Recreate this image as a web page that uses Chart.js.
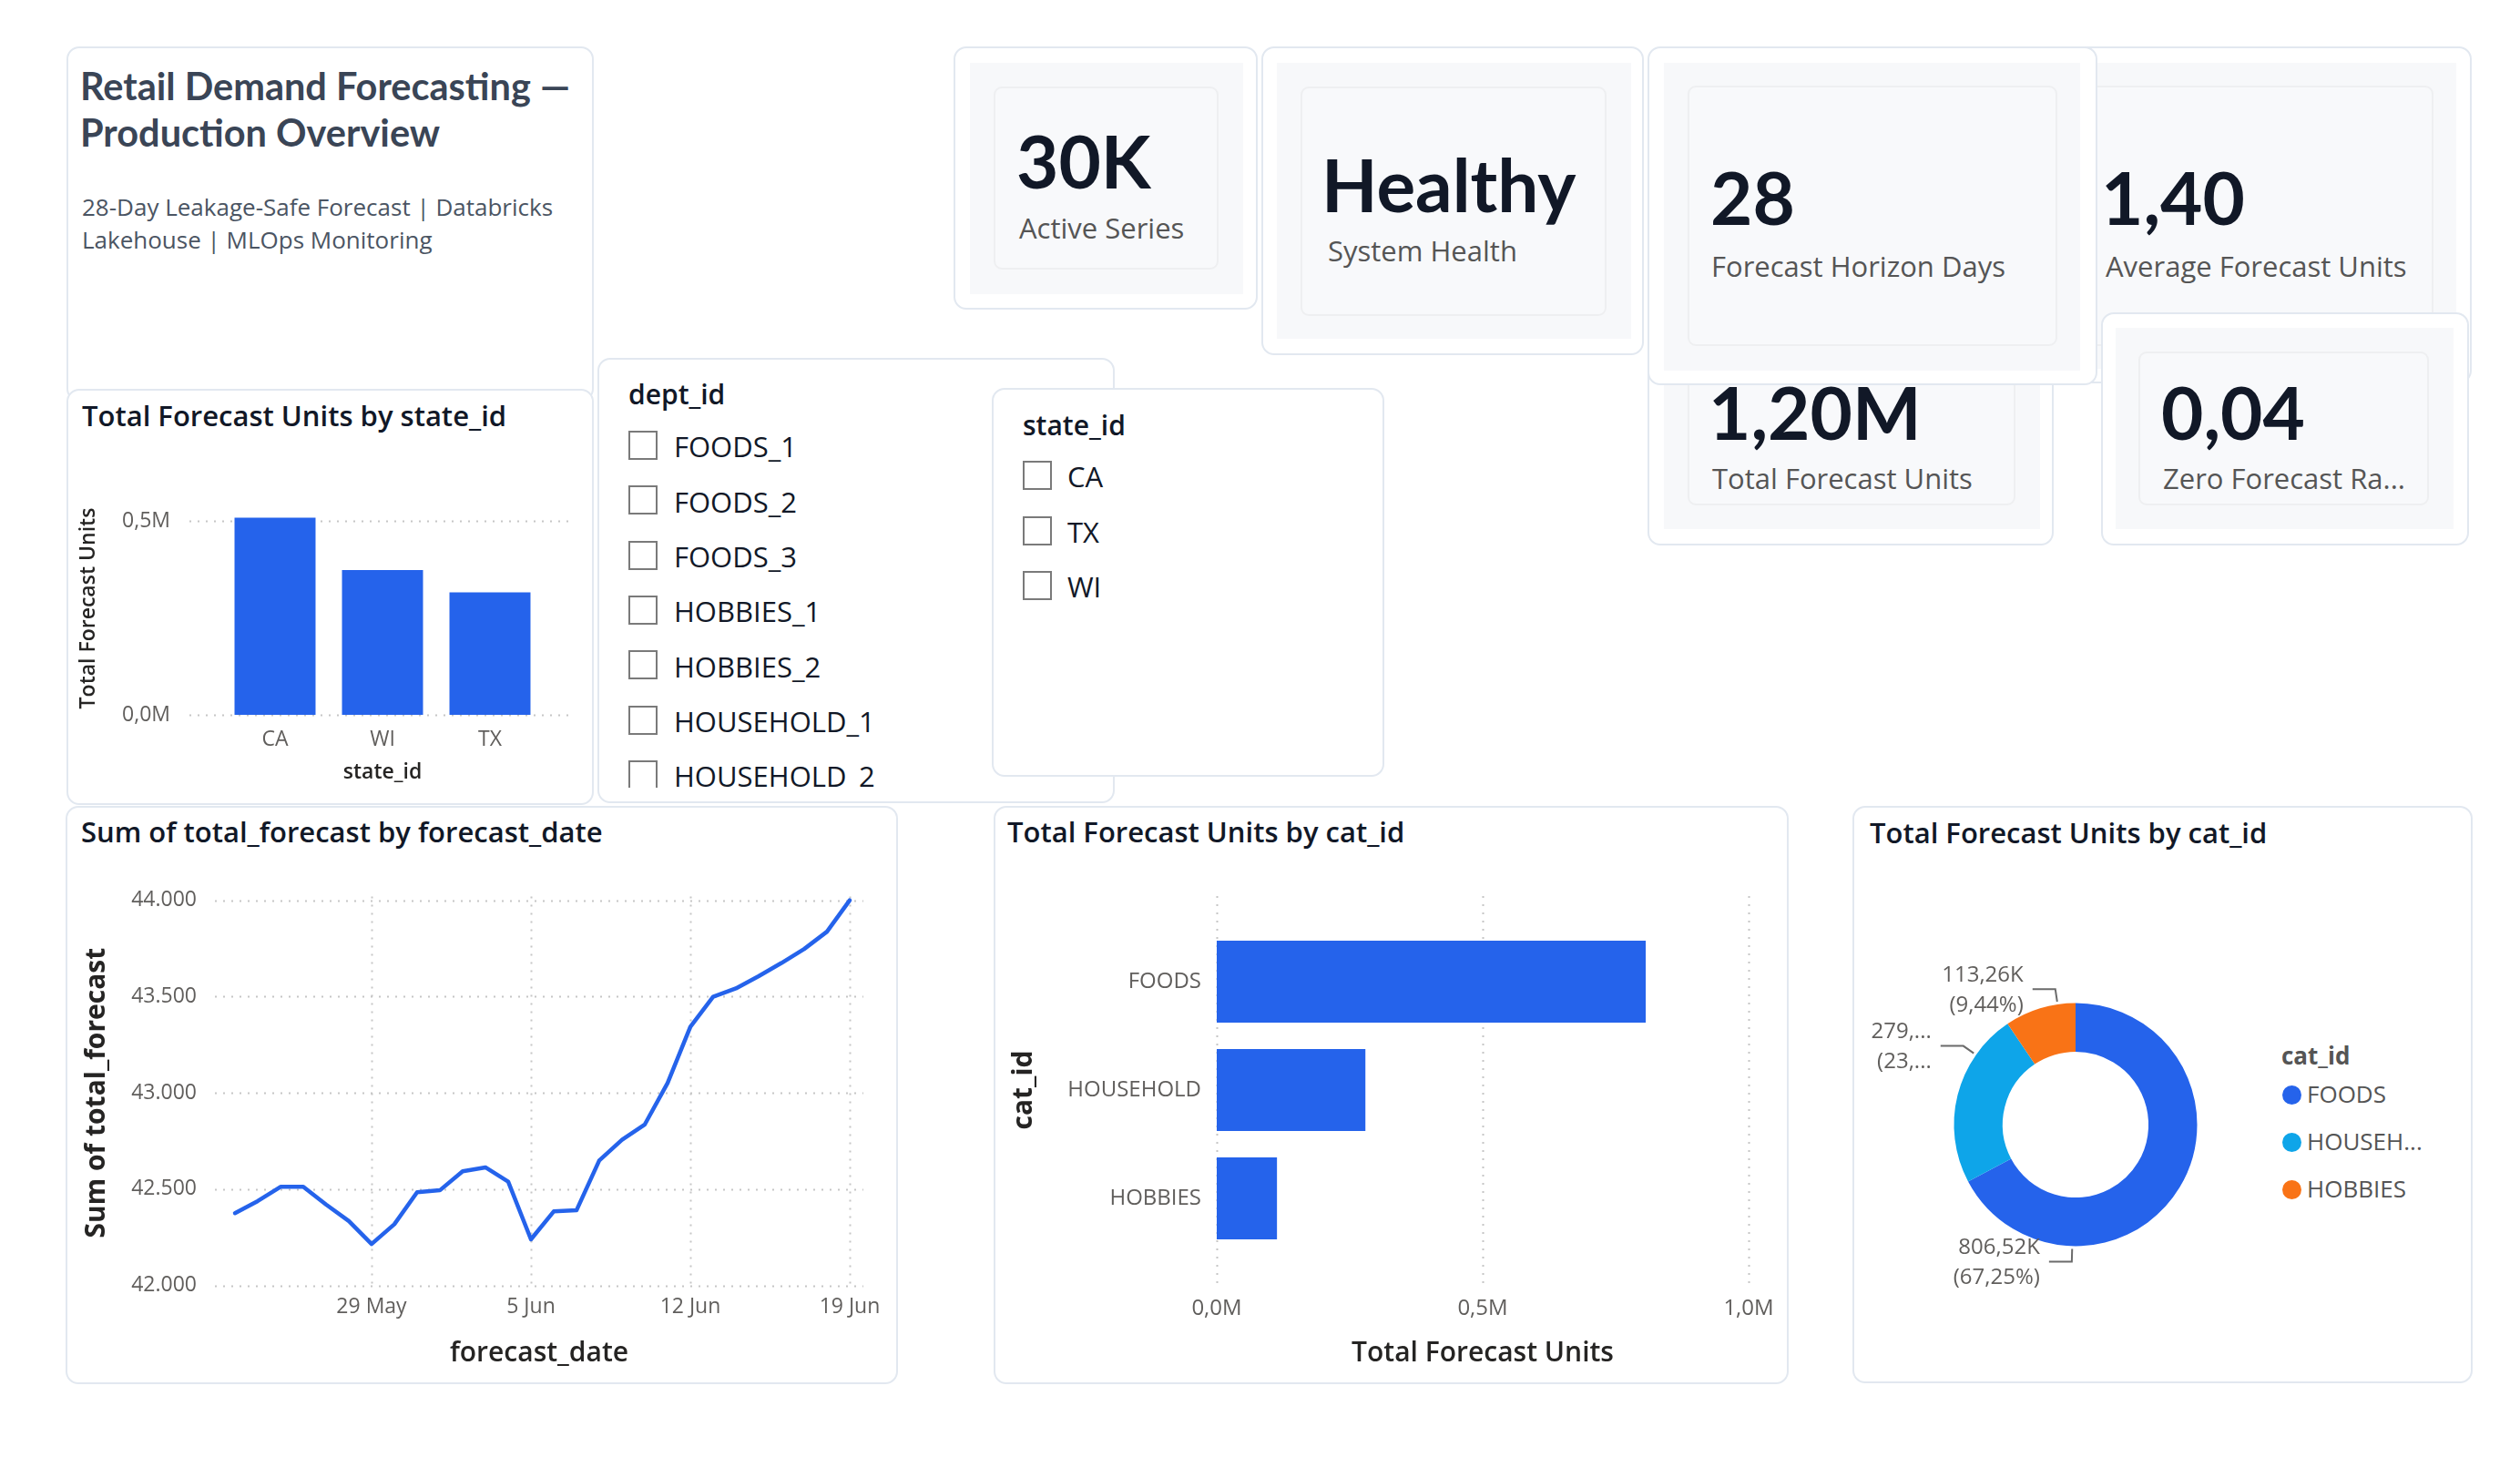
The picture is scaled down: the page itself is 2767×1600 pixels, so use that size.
<!DOCTYPE html>
<html><head><meta charset="utf-8">
<script src="https://cdn.jsdelivr.net/npm/chart.js@4.4.1/dist/chart.umd.min.js"></script>
<style>
html,body{margin:0;padding:0;background:#fff;}
#page{position:relative;width:2767px;height:1600px;overflow:hidden;font-family:"Open Sans",sans-serif;}
.card{position:absolute;box-sizing:border-box;background:#fff;border:2px solid #E2E8F0;border-radius:14px;}
.grey{position:absolute;background:#F7F8FA;}
.inner{position:absolute;box-sizing:border-box;background:#F8F9FB;border:2px solid #EEEFF1;border-radius:9px;}
.t{position:absolute;white-space:nowrap;line-height:1;}
.cb{position:absolute;box-sizing:border-box;width:32px;height:32px;border:2px solid #7A7A7A;background:#fff;}
.clip{position:absolute;overflow:hidden;}
.dot{position:absolute;width:21px;height:21px;border-radius:50%;}
canvas{position:absolute;}
</style></head>
<body><div id="page"></div>
<script>
// ---------- data ----------
const states = ['CA', 'WI', 'TX'];
const stateUnits = [509000, 374000, 316300];
const stateTicks = [0, 500000];

const forecastDates = ['23 May','24 May','25 May','26 May','27 May','28 May','29 May','30 May','31 May',
  '1 Jun','2 Jun','3 Jun','4 Jun','5 Jun','6 Jun','7 Jun','8 Jun','9 Jun','10 Jun','11 Jun','12 Jun',
  '13 Jun','14 Jun','15 Jun','16 Jun','17 Jun','18 Jun','19 Jun'];
const totalForecast = [42375, 42438, 42512, 42512, 42420, 42334, 42215, 42318, 42484, 42494, 42593, 42613,
  42539, 42239, 42384, 42390, 42649, 42756, 42836, 43051, 43343, 43499, 43542, 43606, 43674, 43747, 43837, 44000];
const dateTickLabels = ['29 May', '5 Jun', '12 Jun', '19 Jun'];
const forecastTicks = [42000, 42500, 43000, 43500, 44000];

const categories = ['FOODS', 'HOUSEHOLD', 'HOBBIES'];
const categoryUnits = [806520, 279500, 113260];
const unitTicks = [0, 500000, 1000000];

const deptIds = ['FOODS_1','FOODS_2','FOODS_3','HOBBIES_1','HOBBIES_2','HOUSEHOLD_1','HOUSEHOLD_2'];
const stateIds = ['CA', 'TX', 'WI'];

const kpiValues = ['30K', 'Healthy', '28', '1,40', '1,20M', '0,04'];
const kpiLabels = ['Active Series', 'System Health', 'Forecast Horizon Days', 'Average Forecast Units', 'Total Forecast Units', 'Zero Forecast Ra...'];

const catColors = ['#2563EB', '#0EA5E9', '#F97316'];

// ---------- page helpers ----------
const page = document.getElementById('page');
function box(cls, x, y, w, h, parent) {
  const d = document.createElement('div'); d.className = cls;
  d.style.left = x + 'px'; d.style.top = y + 'px'; d.style.width = w + 'px'; d.style.height = h + 'px';
  (parent || page).appendChild(d); return d;
}
function txt(x, base, size, weight, color, text, fam, parent, ox, oy) {
  const d = document.createElement('div'); d.className = 't';
  d.style.left = (x - (ox || 0)) + 'px'; d.style.top = (base - 0.888 * size - (oy || 0)) + 'px';
  d.style.fontSize = size + 'px'; d.style.fontWeight = weight; d.style.color = color;
  if (fam) d.style.fontFamily = fam;
  d.textContent = text; (parent || page).appendChild(d); return d;
}
const LATO = 'Lato, "Open Sans", sans-serif';

// title card
box('card', 73, 51, 579, 390);
txt(88, 111, 41.5, 700, '#3A4556', 'Retail Demand Forecasting \u2014', LATO);
txt(88, 162, 41.5, 700, '#3A4556', 'Production Overview', LATO);
txt(90, 237, 26, 400, '#4B5563', '28-Day Leakage-Safe Forecast | Databricks');
txt(90, 273, 26, 400, '#4B5563', 'Lakehouse | MLOps Monitoring');

// state chart card
box('card', 73, 427, 579, 457);
txt(90, 469, 31, 600, '#111827', 'Total Forecast Units by state_id');

// dept slicer
box('card', 656, 393, 568, 489);
txt(690, 445, 30, 600, '#111827', 'dept_id');
const dclip = box('clip', 656, 460, 568, 405);
deptIds.forEach((d, i) => {
  const top = 473 + 60.3 * i;
  box('cb', 690 - 656, top - 460, 32, 32, dclip);
  txt(740, top + 30, 31, 400, '#111827', d, null, dclip, 656, 460);
});

// state slicer
box('card', 1089, 426, 431, 427);
txt(1123, 478.5, 30, 600, '#111827', 'state_id');
stateIds.forEach((s, i) => {
  const top = 506 + 60.5 * i;
  box('cb', 1123, top, 32, 32);
  txt(1172, top + 30, 31, 400, '#111827', s);
});

// KPI cards
function kpi(o, g, n, i, vx, vb, lx, lb) {
  box('card', o[0], o[1], o[2], o[3]);
  box('grey', g[0], g[1], g[2], g[3]);
  box('inner', n[0], n[1], n[2], n[3]);
  txt(vx, vb, 80, 700, '#111827', kpiValues[i], LATO);
  txt(lx, lb, 31, 400, '#555555', kpiLabels[i]);
}
kpi([2245, 51, 469, 370], [2263, 69, 434, 336], [2289, 94, 383, 286], 3, 2307, 247, 2312, 305);
kpi([1809, 327, 446, 272], [1827, 345, 413, 236], [1853, 371, 360, 184], 4, 1876, 483, 1880, 538);
kpi([1809, 51, 494, 372], [1827, 69, 457, 338], [1853, 94, 406, 286], 2, 1878, 247, 1879, 305);
kpi([2307, 343, 404, 256], [2323, 360, 371, 221], [2348, 386, 319, 169], 5, 2373, 483, 2375, 538);
kpi([1047, 51, 334, 289], [1065, 69, 300, 254], [1091, 95, 247, 201], 0, 1116, 207, 1119, 263);
kpi([1385, 51, 420, 339], [1402, 69, 389, 303], [1428, 95, 336, 252], 1, 1451, 233, 1458, 288);

// bottom cards
box('card', 72, 885, 914, 635);
txt(89, 926, 31, 600, '#111827', 'Sum of total_forecast by forecast_date');
box('card', 1091, 885, 873, 635);
txt(1106, 926, 31, 600, '#111827', 'Total Forecast Units by cat_id');
box('card', 2034, 885, 681, 634);
txt(2053, 927, 31, 600, '#111827', 'Total Forecast Units by cat_id');

// donut legend (HTML)
txt(2505, 1169, 26, 700, '#555555', 'cat_id');
const mctx = document.createElement('canvas').getContext('2d');
mctx.font = '400 26px "Open Sans"';
function fitText(ctx, s, maxW) {
  if (ctx.measureText(s).width <= maxW) return s;
  let t = s;
  while (t.length > 1 && ctx.measureText(t + '...').width > maxW) t = t.slice(0, -1);
  return t + '...';
}
categories.forEach((c, i) => {
  const cy = 1202 + 52 * i;
  const d = box('dot', 2516 - 10.5, cy - 10.5, 21, 21); d.style.background = catColors[i];
  txt(2533, cy + 9.5, 26, 400, '#555555', fitText(mctx, c, 140));
});

// ---------- charts ----------
Chart.defaults.font.family = '"Open Sans", sans-serif';
Chart.defaults.color = '#605E5C';
Chart.defaults.animation = false;

function mkCanvas(x, y, w, h) {
  const c = document.createElement('canvas');
  c.width = w; c.height = h;
  c.style.left = x + 'px'; c.style.top = y + 'px'; c.style.width = w + 'px'; c.style.height = h + 'px';
  page.appendChild(c); return c;
}
const fmtM = v => (v / 1e6).toFixed(1).replace('.', ',') + 'M';
const fmtThousands = v => String(v).replace(/\B(?=(\d{3})+(?!\d))/g, '.');
// fix an axis' thickness and drop its label-overflow padding so the layout padding alone sets the plot area
const fixSize = (dim, v) => s => { s[dim] = v; s.paddingLeft = 0; s.paddingRight = 0; s.paddingTop = 0; s.paddingBottom = 0; };

const extGrid = {
  id: 'extGrid',
  beforeDatasetsDraw(chart, args, opts) {
    const ca = chart.chartArea, ctx = chart.ctx;
    ctx.save();
    ctx.strokeStyle = '#C6C6C6'; ctx.lineWidth = 2; ctx.setLineDash([2, 7]);
    (opts.lines || []).forEach(l => {
      const s = chart.scales[l.axis];
      s.ticks.forEach(t => {
        const p = Math.round(s.getPixelForValue(t.value)) + 0.5;
        ctx.beginPath();
        if (s.isHorizontal()) { ctx.moveTo(p, ca.top - l.before); ctx.lineTo(p, ca.bottom + l.after); }
        else { ctx.moveTo(ca.left - l.before, p); ctx.lineTo(ca.right + l.after, p); }
        ctx.stroke();
      });
    });
    ctx.restore();
  }
};

// state bar chart
new Chart(mkCanvas(73, 480, 579, 400), {
  type: 'bar',
  data: { labels: states, datasets: [{ data: stateUnits, backgroundColor: '#2563EB', barPercentage: 0.754, categoryPercentage: 1 }] },
  options: {
    responsive: false, animation: false,
    layout: { padding: { top: 71, right: 55, left: 0, bottom: 0 } },
    plugins: { legend: { display: false }, tooltip: { enabled: false }, extGrid: { lines: [{ axis: 'y', before: 35, after: 31 }] } },
    scales: {
      x: { grid: { display: false }, border: { display: false },
        ticks: { padding: 6, font: { size: 23 }, color: '#605E5C' },
        title: { display: true, text: 'state_id', font: { size: 23, weight: '600' }, color: '#252423', padding: { top: 0, bottom: 18 } },
        afterFit: fixSize('height', 95) },
      y: { min: 0, max: 550000, grid: { display: false }, border: { display: false },
        afterBuildTicks: s => { s.ticks = stateTicks.map(v => ({ value: v })); },
        ticks: { padding: 48, font: { size: 23 }, color: '#605E5C', callback: v => fmtM(v) },
        title: { display: true, text: 'Total Forecast Units', font: { size: 23, weight: '600' }, color: '#252423', padding: { top: 11, bottom: 0 } },
        afterFit: fixSize('width', 170) }
    }
  },
  plugins: [extGrid]
});

// line chart
new Chart(mkCanvas(72, 940, 914, 575), {
  type: 'line',
  data: { datasets: [{ data: totalForecast.map((v, i) => ({ x: i, y: v })), borderColor: '#2563EB', borderWidth: 4.5,
    pointRadius: 0, tension: 0, clip: false, borderJoinStyle: 'round', borderCapStyle: 'round' }] },
  options: {
    responsive: false, animation: false,
    layout: { padding: { top: 44.4, right: 38, left: 0, bottom: 0 } },
    plugins: { legend: { display: false }, tooltip: { enabled: false },
      extGrid: { lines: [{ axis: 'x', before: 0, after: 0 }, { axis: 'y', before: 0, after: 0 }] } },
    scales: {
      x: { type: 'linear', min: -0.88, max: 27.6, grid: { display: false }, border: { display: false },
        afterBuildTicks: s => { s.ticks = dateTickLabels.map(l => ({ value: forecastDates.indexOf(l) })); },
        ticks: { padding: 0, font: { size: 23, lineHeight: 1 }, color: '#605E5C', maxRotation: 0, autoSkip: false,
          callback: v => forecastDates[v] },
        title: { display: true, text: 'forecast_date', font: { size: 30, weight: '600' }, color: '#252423', padding: { top: 0, bottom: 11 } },
        afterFit: fixSize('height', 99.2) },
      y: { min: 41980, max: 44020, grid: { display: false }, border: { display: false },
        afterBuildTicks: s => { s.ticks = forecastTicks.map(v => ({ value: v })); },
        ticks: { padding: 12, font: { size: 23 }, color: '#605E5C', callback: v => fmtThousands(v) },
        title: { display: true, text: 'Sum of total_forecast', font: { size: 30, weight: '700' }, color: '#252423', padding: { top: 16, bottom: 0 } },
        afterFit: fixSize('width', 164) }
    }
  },
  plugins: [extGrid]
});

// horizontal bar chart
new Chart(mkCanvas(1091, 940, 873, 575), {
  type: 'bar',
  data: { labels: categories, datasets: [{ data: categoryUnits, backgroundColor: '#2563EB', barPercentage: 0.756, categoryPercentage: 1 }] },
  options: {
    indexAxis: 'y', responsive: false, animation: false,
    layout: { padding: { top: 78.5, right: 44, left: 0, bottom: 0 } },
    plugins: { legend: { display: false }, tooltip: { enabled: false }, extGrid: { lines: [{ axis: 'x', before: 34.5, after: 38.5 }] } },
    scales: {
      x: { min: 0, max: 1000000, grid: { display: false }, border: { display: false },
        afterBuildTicks: s => { s.ticks = unitTicks.map(v => ({ value: v })); },
        ticks: { padding: 39, font: { size: 24 }, color: '#605E5C', callback: v => fmtM(v) },
        title: { display: true, text: 'Total Forecast Units', font: { size: 30, weight: '600' }, color: '#252423', padding: { top: 0, bottom: 11 } },
        afterFit: fixSize('height', 139.5) },
      y: { grid: { display: false }, border: { display: false },
        ticks: { padding: 9, font: { size: 24 }, color: '#605E5C' },
        title: { display: true, text: 'cat_id', font: { size: 30, weight: '700' }, color: '#252423', padding: { top: 15, bottom: 0 } },
        afterFit: fixSize('width', 245) }
    }
  },
  plugins: [extGrid]
});

// doughnut with outside labels
const donutLabels = {
  id: 'donutLabels',
  afterDatasetsDraw(chart, args, o) {
    const meta = chart.getDatasetMeta(0), ctx = chart.ctx;
    const data = chart.data.datasets[0].data;
    const total = data.reduce((a, b) => a + b, 0);
    ctx.save();
    ctx.font = '400 24px "Open Sans"';
    meta.data.forEach((arc, i) => {
      const p = arc.getProps(['x', 'y', 'startAngle', 'endAngle', 'outerRadius'], true);
      const a = p.startAngle + (p.endAngle - p.startAngle) * 0.75;
      const r0 = p.outerRadius + 3, r1 = r0 + 14;
      const x0 = p.x + Math.cos(a) * r0, y0 = p.y + Math.sin(a) * r0;
      const x1 = p.x + Math.cos(a) * r1, y1 = p.y + Math.sin(a) * r1;
      const dir = x0 < p.x ? -1 : 1;
      const x2 = x1 + dir * 25;
      ctx.strokeStyle = '#6B6B6B'; ctx.lineWidth = 2; ctx.setLineDash([]);
      ctx.beginPath(); ctx.moveTo(x0, y0); ctx.lineTo(x1, y1); ctx.lineTo(x2, y1); ctx.stroke();
      const tx = x2 + dir * 10;
      const maxW = dir < 0 ? tx - 4 : chart.width - 4 - tx;
      const l1 = fitText(ctx, (data[i] / 1000).toFixed(2).replace('.', ',') + 'K', maxW);
      const l2 = fitText(ctx, '(' + (data[i] / total * 100).toFixed(2).replace('.', ',') + '%)', maxW);
      ctx.fillStyle = '#605E5C'; ctx.textAlign = dir < 0 ? 'right' : 'left'; ctx.textBaseline = 'middle';
      ctx.fillText(l1, tx, y1 - 15);
      ctx.fillText(l2, tx, y1 + 18);
    });
    ctx.restore();
  }
};
new Chart(mkCanvas(2044, 1000, 470, 470), {
  type: 'doughnut',
  data: { labels: categories, datasets: [{ data: categoryUnits, backgroundColor: catColors, borderWidth: 0 }] },
  options: {
    responsive: false, animation: false, radius: 133.5, cutout: '60%',
    plugins: { legend: { display: false }, tooltip: { enabled: false } }
  },
  plugins: [donutLabels]
});
</script>
</body></html>
